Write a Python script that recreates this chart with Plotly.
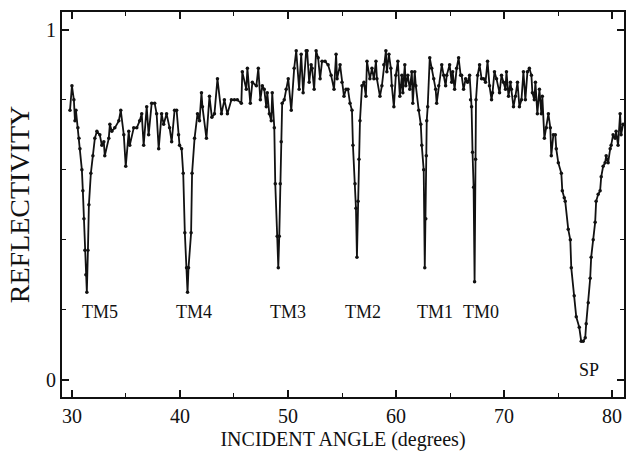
import plotly.graph_objects as go

angle = [
    29.82, 30.00, 30.18, 30.28, 30.37, 30.55, 30.65, 30.74, 30.92, 31.01,
    31.11, 31.20, 31.29, 31.38, 31.48, 31.57, 31.75, 31.94, 32.12, 32.31,
    32.58, 32.77, 32.95, 33.04, 33.41, 33.51, 33.69, 33.97, 34.34, 34.52,
    34.80, 34.98, 35.26, 35.35, 35.72, 36.00, 36.27, 36.46, 36.64, 36.92,
    37.10, 37.38, 37.66, 37.84, 38.03, 38.30, 38.49, 38.76, 39.04, 39.23,
    39.50, 39.69, 39.87, 39.96, 40.15, 40.30, 40.45, 40.61, 40.70, 40.79,
    41.03, 41.12, 41.35, 41.62, 41.81, 41.99, 42.08, 42.45, 42.73, 42.95,
    43.19, 43.47, 43.84, 44.11, 44.39, 44.76, 45.04, 45.31, 45.68, 45.77,
    46.14, 46.24, 46.51, 46.70, 47.07, 47.25, 47.44, 47.62, 47.80, 47.99,
    48.08, 48.27, 48.45, 48.54, 48.73, 48.82, 49.00, 49.10, 49.19, 49.28,
    49.37, 49.46, 49.65, 49.83, 50.02, 50.30, 50.57, 50.76, 51.03, 51.22,
    51.40, 51.68, 51.77, 51.96, 52.14, 52.23, 52.42, 52.60, 52.79, 52.97,
    53.15, 53.43, 53.71, 53.99, 54.26, 54.45, 54.54, 54.82, 55.00, 55.18,
    55.37, 55.55, 55.74, 55.92, 56.01, 56.20, 56.29, 56.38, 56.48, 56.57,
    56.66, 56.85, 57.03, 57.21, 57.31, 57.58, 57.77, 57.95, 58.14, 58.23,
    58.51, 58.69, 58.87, 59.06, 59.15, 59.34, 59.52, 59.61, 59.80, 59.98,
    60.17, 60.35, 60.54, 60.63, 60.81, 60.90, 61.09, 61.27, 61.46, 61.55,
    61.73, 61.83, 62.10, 62.29, 62.38, 62.56, 62.66, 62.75, 62.80, 62.84,
    62.93, 63.12, 63.30, 63.49, 63.67, 63.76, 63.95, 64.23, 64.41, 64.59,
    64.69, 64.96, 65.15, 65.24, 65.42, 65.61, 65.79, 65.98, 66.07, 66.25,
    66.44, 66.62, 66.81, 66.90, 66.99, 67.08, 67.18, 67.27, 67.36, 67.40,
    67.55, 67.73, 67.92, 68.10, 68.28, 68.47, 68.65, 68.84, 68.93, 69.11,
    69.30, 69.58, 69.76, 69.94, 70.13, 70.22, 70.41, 70.59, 70.68, 70.87,
    71.05, 71.24, 71.42, 71.61, 71.79, 71.97, 72.16, 72.34, 72.53, 72.62,
    72.80, 72.90, 73.08, 73.27, 73.45, 73.54, 73.73, 73.91, 74.10, 74.28,
    74.37, 74.56, 74.74, 74.83, 75.02, 75.30, 75.39, 75.57, 75.66, 75.94,
    76.13, 76.22, 76.49, 76.68, 76.96, 77.14, 77.32, 77.51, 77.60, 77.79,
    77.97, 78.06, 78.25, 78.43, 78.52, 78.71, 78.89, 78.99, 79.17, 79.35,
    79.45, 79.63, 79.82, 79.91, 80.09, 80.28, 80.37, 80.55, 80.74, 80.83,
    81.01,
]

reflectivity = [
    0.77, 0.84, 0.80, 0.74, 0.77, 0.72, 0.69, 0.66, 0.60, 0.54,
    0.46, 0.37, 0.30, 0.25, 0.37, 0.50, 0.59, 0.64, 0.69, 0.71,
    0.70, 0.67, 0.68, 0.64, 0.69, 0.73, 0.71, 0.72, 0.74, 0.77,
    0.70, 0.61, 0.71, 0.67, 0.72, 0.72, 0.74, 0.76, 0.67, 0.78,
    0.70, 0.79, 0.79, 0.76, 0.66, 0.76, 0.73, 0.76, 0.72, 0.68,
    0.77, 0.77, 0.70, 0.67, 0.66, 0.59, 0.42, 0.32, 0.25, 0.32,
    0.42, 0.59, 0.69, 0.76, 0.74, 0.82, 0.78, 0.69, 0.81, 0.75,
    0.76, 0.86, 0.76, 0.80, 0.76, 0.80, 0.80, 0.80, 0.79, 0.88,
    0.83, 0.89, 0.79, 0.85, 0.84, 0.89, 0.80, 0.84, 0.83, 0.78,
    0.82, 0.76, 0.74, 0.82, 0.72, 0.56, 0.41, 0.32, 0.41, 0.56,
    0.68, 0.79, 0.80, 0.83, 0.86, 0.77, 0.89, 0.94, 0.83, 0.93,
    0.82, 0.94, 0.94, 0.85, 0.90, 0.89, 0.83, 0.94, 0.92, 0.86,
    0.91, 0.91, 0.90, 0.87, 0.83, 0.93, 0.86, 0.90, 0.85, 0.81,
    0.83, 0.83, 0.79, 0.77, 0.67, 0.56, 0.49, 0.35, 0.51, 0.63,
    0.74, 0.84, 0.85, 0.81, 0.91, 0.86, 0.89, 0.86, 0.91, 0.86,
    0.81, 0.84, 0.90, 0.94, 0.88, 0.93, 0.89, 0.84, 0.78, 0.87,
    0.91, 0.81, 0.87, 0.82, 0.90, 0.84, 0.87, 0.83, 0.88, 0.79,
    0.88, 0.84, 0.77, 0.73, 0.67, 0.60, 0.32, 0.46, 0.64, 0.74,
    0.78, 0.92, 0.89, 0.86, 0.83, 0.79, 0.84, 0.90, 0.87, 0.84,
    0.87, 0.90, 0.85, 0.88, 0.83, 0.89, 0.92, 0.87, 0.87, 0.83,
    0.86, 0.85, 0.87, 0.80, 0.78, 0.65, 0.55, 0.28, 0.63, 0.80,
    0.87, 0.90, 0.86, 0.86, 0.85, 0.91, 0.84, 0.80, 0.82, 0.88,
    0.86, 0.82, 0.87, 0.85, 0.83, 0.88, 0.81, 0.85, 0.83, 0.78,
    0.81, 0.85, 0.78, 0.80, 0.88, 0.80, 0.88, 0.89, 0.87, 0.82,
    0.80, 0.85, 0.76, 0.83, 0.76, 0.81, 0.69, 0.72, 0.76, 0.72,
    0.64, 0.70, 0.70, 0.66, 0.62, 0.59, 0.54, 0.52, 0.51, 0.43,
    0.40, 0.32, 0.24, 0.18, 0.15, 0.11, 0.11, 0.12, 0.16, 0.22,
    0.29, 0.35, 0.40, 0.45, 0.51, 0.53, 0.54, 0.58, 0.61, 0.62,
    0.64, 0.62, 0.66, 0.67, 0.70, 0.69, 0.71, 0.67, 0.76, 0.70,
    0.73,
]

mode_labels = ["TM5", "TM4", "TM3", "TM2", "TM1", "TM0", "SP"]
label_angle = [32.6, 41.3, 50.0, 56.9, 63.6, 67.9, 77.9]
label_refl = [0.195, 0.195, 0.195, 0.195, 0.195, 0.195, 0.027]

FONT = "Liberation Serif"
INK = "#111111"

fig = go.Figure()
fig.add_trace(go.Scatter(
    x=angle, y=reflectivity, mode="lines+markers",
    line=dict(color=INK, width=1.8),
    marker=dict(color=INK, size=3.5),
    showlegend=False, hoverinfo="skip",
))

for t, ax, ay in zip(mode_labels, label_angle, label_refl):
    fig.add_annotation(x=ax, y=ay, xref="x", yref="y", text=t, showarrow=False,
                       font=dict(family=FONT, size=18, color=INK))

fig.update_layout(
    width=628, height=460,
    margin=dict(l=62, r=2, t=12, b=63),
    paper_bgcolor="white", plot_bgcolor="white",
    font=dict(family=FONT, color=INK),
)
fig.update_xaxes(
    range=[29.08, 81.1], tickmode="linear", tick0=0, dtick=10,
    ticks="inside", ticklen=7, tickwidth=1.5, tickcolor=INK,
    minor=dict(dtick=5, tick0=0, ticks="inside", ticklen=4, tickcolor=INK, tickwidth=1),
    showline=True, linewidth=2, linecolor=INK, mirror="ticks",
    showgrid=False, zeroline=False,
    tickfont=dict(family=FONT, size=20, color=INK),
    title=dict(text="INCIDENT ANGLE (degrees)", font=dict(family=FONT, size=20, color=INK), standoff=6),
)
fig.update_yaxes(
    range=[-0.049, 1.051], tickvals=[0, 1], ticktext=["0", "1"],
    ticks="inside", ticklen=7, tickwidth=1.5, tickcolor=INK,
    minor=dict(tickvals=[0.2, 0.4, 0.6, 0.8], ticks="inside", ticklen=4, tickcolor=INK, tickwidth=1),
    showline=True, linewidth=2, linecolor=INK, mirror="ticks",
    showgrid=False, zeroline=False,
    tickfont=dict(family=FONT, size=20, color=INK),
    title=dict(text="REFLECTIVITY", font=dict(family=FONT, size=28, color=INK), standoff=8),
)

fig.write_html("out.html")
